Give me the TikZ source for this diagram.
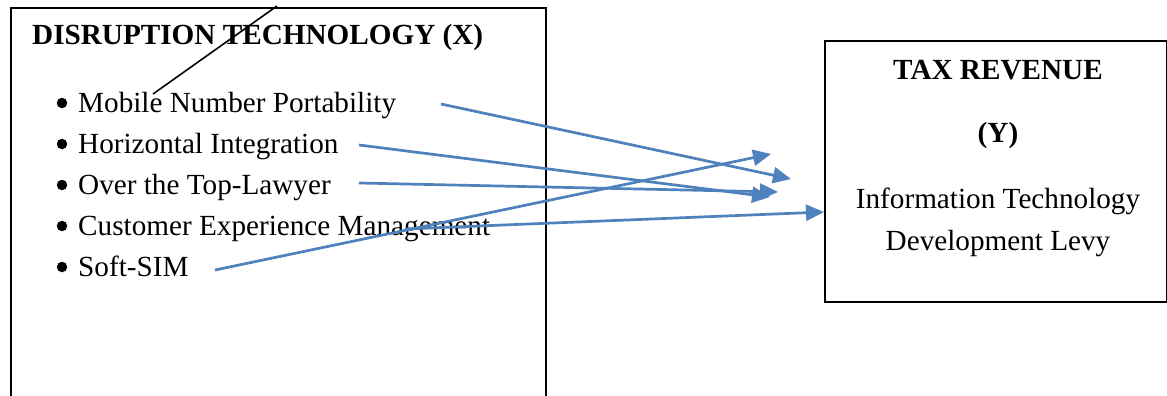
\documentclass[tikz,border=0pt]{standalone}
\usepackage{fontspec}
\setmainfont{Liberation Serif}
\usetikzlibrary{arrows.meta}
\definecolor{arrblue}{HTML}{4F81BD}
\begin{document}
\begin{tikzpicture}[x=1pt,y=-1pt,
  boxstyle/.style={draw=black,line width=2pt,inner sep=0pt,anchor=north west},
  txt/.style={inner sep=0pt,font=\fontsize{29.2}{35}\selectfont},
  btxt/.style={inner sep=0pt,font=\fontsize{29.2}{35}\selectfont\bfseries},
  dot/.style={circle,fill=black,inner sep=0pt,minimum size=10.5pt},
  arr/.style={draw=arrblue,line width=2.7pt,-{Triangle[length=18pt,width=16pt]}}]
\useasboundingbox (0,0) rectangle (1167,396);
\clip (0,0) rectangle (1167,396);
\fill[white] (0,0) rectangle (1167,396);
% boxes
\node[boxstyle,minimum width=535pt,minimum height=460pt] (xbox) at (10,7) {};
\node[boxstyle,minimum width=342pt,minimum height=261pt] (ybox) at (824,40) {};
% left texts
\node[btxt,anchor=base west] (xtitle) at (32,45) {DISRUPTION TECHNOLOGY (X)};
\node[dot] (b1) at (62,103) {};
\node[txt,anchor=base west] (i1) at (78,112) {Mobile Number Portability};
\node[dot] (b2) at (62,144) {};
\node[txt,anchor=base west] (i2) at (78,153) {Horizontal Integration};
\node[dot] (b3) at (62,185) {};
\node[txt,anchor=base west] (i3) at (78,194) {Over the Top-Lawyer};
\node[dot] (b4) at (62,226) {};
\node[txt,anchor=base west] (i4) at (78,235) {Customer Experience Management};
\node[dot] (b5) at (62,267) {};
\node[txt,anchor=base west] (i5) at (78,276) {Soft-SIM};
% right texts
\node[btxt,anchor=base] (ytitle) at (998,80) {TAX REVENUE};
\node[btxt,anchor=base] (yvar) at (998,142) {(Y)};
\node[txt,anchor=base] (yl1) at (998,208) {Information Technology};
\node[txt,anchor=base] (yl2) at (998,250) {Development Levy};
% connector coordinates
\coordinate (s1) at (441,104);
\coordinate (e1) at (791,179);
\coordinate (s2) at (359,145);
\coordinate (e2) at (770,197);
\coordinate (s3) at (359,183);
\coordinate (e3) at (778,192);
\coordinate (s4) at (405,229);
\coordinate (s5) at (215,270);
\coordinate (e5) at (771,154);
\coordinate (d1) at (153,94);
\coordinate (d2) at (277,6);
% black diagonal
\draw[black,line width=1.6pt] (d1) -- (d2);
% arrows
\draw[arr] (s1) -- (e1);
\draw[arr] (s2) -- (e2);
\draw[arr] (s3) -- (e3);
\draw[arr] (s4) -- (ybox.west |- 0,212);
\draw[arr] (s5) -- (e5);
\end{tikzpicture}
\end{document}
